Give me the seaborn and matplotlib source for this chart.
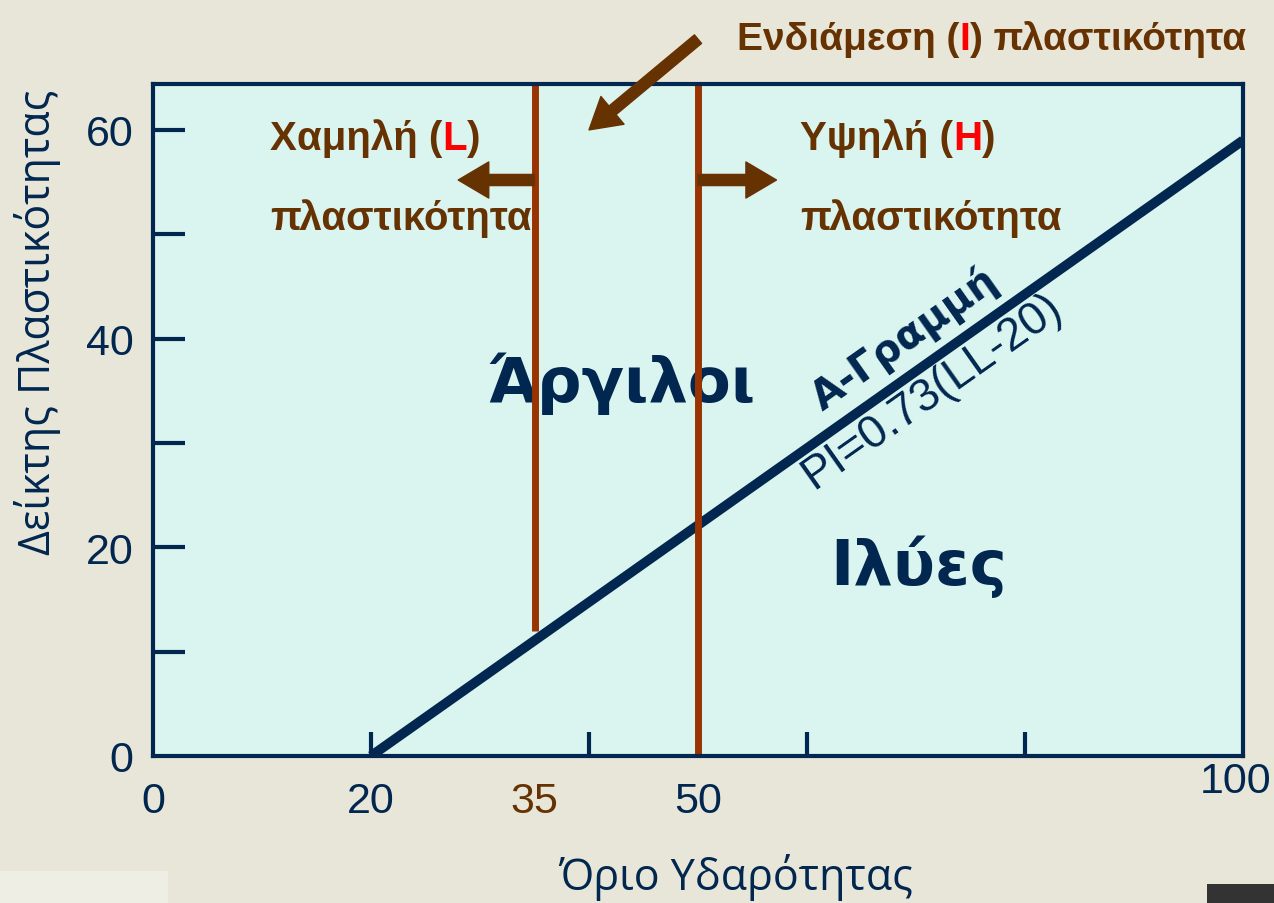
import numpy
import matplotlib
matplotlib.use("Agg")
import matplotlib.pyplot as plt
import matplotlib.patches as patches
import seaborn

# data
a_line_ll = [20, 100]
a_line_pi = [0, 59]
boundary_ll = [35, 50]
boundary_bottom = [12, 0]

x_label_ticks = [0, 20, 35, 50]
x_tick_labels = ["0", "20", "35", "50"]
x_end_label = "100"
x_marks = [20, 40, 60, 80]
y_label_ticks = [0, 20, 40, 60]
y_tick_labels = ["0", "20", "40", "60"]
y_marks = [10, 20, 30, 40, 50, 60]

NAVY = "#00274f"
BROWN = "#663300"
RUST = "#993300"
RED = "#ff0000"
BEIGE = "#e8e6d9"
CYAN = "#daf4f0"

seaborn.set_theme(style="white")
plt.rcParams["font.family"] = ["Open Sans", "DejaVu Sans"]

NARROW = ["Liberation Sans Narrow", "Liberation Sans", "DejaVu Sans"]

fig = plt.figure(figsize=(12.74, 9.04), dpi=100, facecolor=BEIGE)
W, H = 1274.0, 904.0


def fx(px):
    return px / W


def fy(py):
    return 1 - py / H


# decorations from the slide
fig.patches.append(patches.Rectangle((0, 0), fx(168), 32 / H, transform=fig.transFigure,
                                     facecolor="#efeee4", edgecolor="none", zorder=0))
fig.patches.append(patches.Rectangle((fx(1207), 0), fx(67), 19 / H, transform=fig.transFigure,
                                     facecolor="#333333", edgecolor="none", zorder=0))

ax = fig.add_axes([fx(153), fy(757), fx(1243 - 153), (757 - 85) / H])
ax.set_facecolor(CYAN)
ax.set_xlim(0, 100)
ax.set_ylim(0, 64.4)

for s in ax.spines.values():
    s.set_color(NAVY)
    s.set_linewidth(3)
    s.set_zorder(5)

# A-line
seaborn.lineplot(x=a_line_ll, y=a_line_pi, ax=ax, color=NAVY, linewidth=7,
                 solid_capstyle="butt", zorder=4)

# plasticity boundaries
ax.vlines(boundary_ll, boundary_bottom, ax.get_ylim()[1], colors=RUST, linewidth=5, zorder=4)

# ticks: labels on major ticks, marks on minor ticks (keep both where they coincide)
ax.xaxis.remove_overlapping_locs = False
ax.yaxis.remove_overlapping_locs = False
ax.xaxis.set_zorder(4.5)

ax.set_xticks(x_label_ticks)
ax.set_xticklabels(x_tick_labels, family=NARROW, fontsize=31, color=NAVY)
ax.set_xticks(x_marks, minor=True)
ax.tick_params(axis="x", which="major", bottom=True, length=0, pad=18)
ax.tick_params(axis="x", which="minor", bottom=True, direction="in", length=17, width=3, color=NAVY)
ax.get_xticklabels()[2].set_color(BROWN)

ax.set_yticks(y_label_ticks)
ax.set_yticklabels(y_tick_labels, family=NARROW, fontsize=31, color=NAVY)
ax.set_yticks(y_marks, minor=True)
ax.tick_params(axis="y", which="major", left=True, length=0, pad=14)
ax.tick_params(axis="y", which="minor", left=True, direction="in", length=23, width=3, color=NAVY)
for t in ax.yaxis.get_minor_ticks():
    if t.get_loc() == 30:
        t.tick1line.set_color("#6b93a8")

fig.text(fx(1271), fy(762), x_end_label, ha="right", va="top",
         family=NARROW, fontsize=31, color=NAVY)

# axis titles
fig.text(fx(38), fy(322), "Δείκτης Πλαστικότητας", rotation=90, ha="center", va="center",
         fontsize=31, color=NAVY)
fig.text(fx(735), fy(878), "Όριο Υδαρότητας", ha="center", va="center",
         fontsize=31, color=NAVY)


def coloured(x, y, parts, size=29):
    prev = fig.text(x, y, parts[0][0], color=parts[0][1], family=NARROW, fontsize=size,
                    weight="bold", ha="left", va="baseline", zorder=3)
    for txt, col in parts[1:]:
        prev = ax.annotate(txt, xy=(1, 0), xycoords=prev, ha="left", va="bottom",
                           color=col, family=NARROW, fontsize=size, weight="bold",
                           annotation_clip=False, zorder=3)
    return prev


coloured(fx(737), fy(50), [("Ενδιάμεση (", BROWN), ("I", RED), (") πλαστικότητα", BROWN)], size=28)
coloured(fx(270), fy(150), [("Χαμηλή (", BROWN), ("L", RED), (")", BROWN)])
coloured(fx(800), fy(150), [("Υψηλή (", BROWN), ("H", RED), (")", BROWN)])
fig.text(fx(270), fy(230), "πλαστικότητα", color=BROWN, family=NARROW, fontsize=29,
         weight="bold", ha="left", va="baseline", zorder=3)
fig.text(fx(800), fy(230), "πλαστικότητα", color=BROWN, family=NARROW, fontsize=29,
         weight="bold", ha="left", va="baseline", zorder=3)

# arrows
arrow = dict(arrowstyle="simple,head_length=1.1,head_width=1.3,tail_width=0.4",
             color=BROWN, mutation_scale=20, shrinkA=0, shrinkB=0)
ax.annotate("", xy=(40, 60), xytext=(50, 68.7), arrowprops=arrow, annotation_clip=False, zorder=6)
ax.annotate("", xy=(28, 55.2), xytext=(35, 55.2), arrowprops=arrow, zorder=6)
ax.annotate("", xy=(57.2, 55.2), xytext=(50, 55.2), arrowprops=arrow, zorder=6)

# region names
ax.text(43.0, 35.8, "Άργιλοι", ha="center", va="center", family="DejaVu Sans",
        weight="bold", fontsize=45, color=NAVY, zorder=2)
ax.text(70.2, 18.2, "Ιλύες", ha="center", va="center", family="DejaVu Sans",
        weight="bold", fontsize=45, color=NAVY, zorder=2)

# A-line labels
angle = ax.transData.transform_angles(
    numpy.array([numpy.degrees(numpy.arctan2(a_line_pi[1] - a_line_pi[0], a_line_ll[1] - a_line_ll[0]))]),
    numpy.array([[a_line_ll[0], a_line_pi[0]]]))[0]
ax.text(69.0, 40.0, "Α-Γραμμή", rotation=angle, rotation_mode="anchor", ha="center", va="center",
        family="DejaVu Sans", weight="bold", fontsize=29, color=NAVY, zorder=3)
ax.text(71.5, 35.0, "PI=0.73(LL-20)", rotation=angle, rotation_mode="anchor", ha="center",
        va="center", family=["Liberation Sans", "DejaVu Sans"], fontsize=33, color=NAVY, zorder=3)

fig.savefig("out.png", dpi=100, facecolor=BEIGE)
